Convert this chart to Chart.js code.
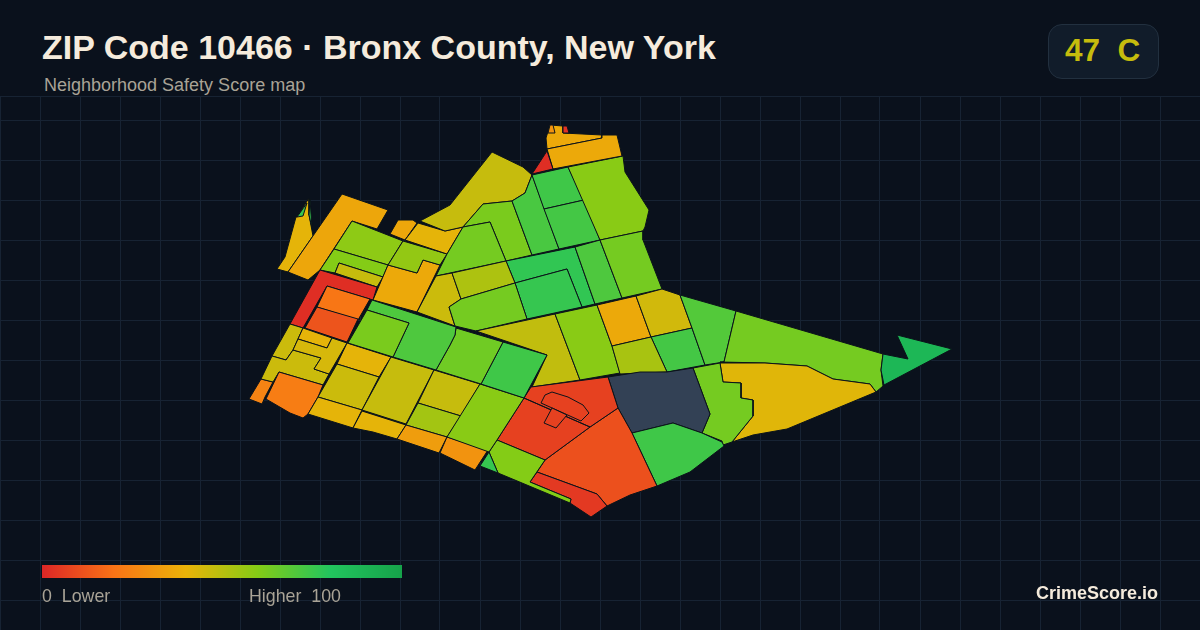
<!DOCTYPE html>
<html><head><meta charset="utf-8">
<script src="https://cdn.jsdelivr.net/npm/chart.js@4/dist/chart.umd.min.js"></script>
<style>
html,body{margin:0;padding:0;width:1200px;height:630px;overflow:hidden;background:#0a111c;font-family:"Liberation Sans",Arial,sans-serif}
#wrap{position:absolute;left:0;top:96px;width:1200px;height:540px}
.t{position:absolute;white-space:pre;line-height:1}
#title{left:42px;top:30px;font-size:34px;font-weight:700;color:#f5ebdc}
#sub{left:44px;top:76px;font-size:18px;color:#a9a396}
#badge{position:absolute;left:1048px;top:24px;width:109px;height:53px;border-radius:14px;background:#111c2a;border:1px solid #22303f}
#grade{left:1065px;top:35px;font-size:31.5px;font-weight:700;color:#c6bc0d}
#bar{position:absolute;left:42px;top:565px;width:360px;height:13px;background:linear-gradient(90deg,#dc2626 0%,#f97316 20%,#eab308 40%,#84cc16 60%,#22c55e 80%,#16a34a 100%)}
.lg{font-size:17.8px;color:#a9a396;top:588px}
#brand{right:42px;top:584px;font-size:18px;font-weight:700;color:#f5ebdc}
</style></head><body>
<div id="wrap"><canvas id="c"></canvas></div>
<div class="t" id="title">ZIP Code 10466 · Bronx County, New York</div>
<div class="t" id="sub">Neighborhood Safety Score map</div>
<div id="badge"></div><div class="t" id="grade">47  C</div>
<div id="bar"></div>
<div class="t lg" style="left:42px">0  Lower</div>
<div class="t lg" style="left:249px">Higher  100</div>
<div class="t" id="brand">CrimeScore.io</div>
<script>
const colorStops=[[0,[220,38,38]],[20,[249,115,22]],[40,[234,179,8]],[60,[132,204,22]],[80,[34,197,94]],[100,[22,163,74]]];
const noDataColor='#334155', edgeColor='#0b131a';
const gridStep=40;

const sliver=[277,269,285,257,296,217,297,217,309,198,309,215,313,236,288,272];
const sliverG1=[297,217,307,203,303,216];
const sliverG2=[310,199,312,228,309,215];
const orangeL=[288,272,342,194,388,210,377,229,352,221,320,270,308,280];
const orangeSmall=[390,234,398,220,413,220,417,223,405,240];
const limeD=[352,221,403,241,388,265,334,249];
const limeStrip=[334,249,388,265,383,277,339,263,335,273,320,270];
const oliveF=[339,263,383,277,377,287,335,273];
const redL=[320,270,377,287,373,300,327,286,303,328,290,324];
const orangeH=[327,286,370,299,358,320,317,307];
const darkI=[317,307,358,319,347,342,305,328];
const orangeJ=[388,265,417,273,423,260,440,265,417,312,373,300];
const limeK=[403,241,447,254,440,265,423,260,417,273,388,265];
const yellowL=[405,240,418,223,445,231,463,227,447,254];
const oliveM=[420,221,450,205,492,152,523,167,532,175,525,193,512,201,483,204,463,227,445,231];
const limeN=[483,204,512,201,532,255,506,261,490,222,463,227];
const limeO=[463,227,490,222,506,261,436,276,447,254];
const greenP=[512,201,525,193,532,175,559,249,532,255];
const greenQ=[532,175,568,167,584,200,544,209];
const greenR=[544,209,584,200,600,240,559,249];
const limeS=[568,167,623,156,625,172,649,210,645,227,643,231,600,240];
const topUpper=[547,149,546,138,550,125,563,126,563,133,602,135,602,138];
const topLower=[547,149,602,138,602,135,617,135,622,156,553,169];
const redTri=[547,151,553,169,532,174];
const topOrange=[548,133,550,125,553,125,555,133];
const topRed=[563,126,567,126,569,133,563,133];
const greenW=[506,261,575,247,595,304,582,307,567,269,515,283];
const greenX=[515,283,567,269,582,307,527,319];
const greenY=[575,247,600,240,622,298,595,304];
const limeZ=[600,240,643,231,643,240,662,289,622,298];
const oliveAA=[436,276,452,273,461,299,449,307,455,326,417,312];
const oliveAB=[452,273,506,261,515,283,461,299];
const limeAC=[449,307,461,299,515,283,527,319,476,331,455,326];
const oliveAD=[476,331,555,314,580,380,532,387,547,355];
const limeAE=[555,314,597,305,612,346,620,373,580,380];
const orangeAF=[597,305,636,296,651,337,612,346];
const oliveAG=[636,296,662,289,680,295,692,328,651,337];
const greenAH=[651,337,692,328,705,365,667,372];
const oliveAI=[612,346,651,337,667,372,620,374];
const greenAJ=[680,295,736,311,724,362,705,365,692,328];
const limeAK=[736,311,883,354,881,370,883,386,876,392,870,384,833,379,807,366,765,363,720,362,724,362];
const tipAL=[883,354,908,359,897,335,952,349,884,385,881,370];
const yellowAM=[720,363,765,363,807,366,833,379,870,384,876,392,787,429,753,435,732,442,753,416,753,400,741,398,741,383,723,382];
const limeAN=[693,368,720,363,723,382,741,383,741,398,753,400,753,416,732,442,723,445,722,441,702,433,710,414];
const slateAO=[608,377,640,372,667,372,693,368,710,414,702,433,673,423,632,433,618,408];
const greenAP=[632,433,673,423,702,433,722,442,724,446,690,472,657,486];
const orangeAQ=[618,408,632,433,657,486,630,495,607,506,597,494,537,472,545,460,590,427];
const redAR=[537,472,597,494,607,506,591,517,570,503,571,499,530,482];
const redAS=[531,387,608,377,618,408,590,427,545,460,497,440,524,398];
const arcShape=[541,403,545,395,552,392,568,397,583,405,589,413,581,421,541,403];
const rectShape=[552,408,544,423,556,428,567,415];
const cutLine=[524,398,590,427,524,398];
const limeAT=[497,440,545,460,530,482,571,499,570,503,498,473,489,452];
const greenAU=[489,452,498,473,480,466];
const tipAV=[261,379,273,382,265,397,262,404,249,399];
const oliveAW=[290,324,303,328,293,350,286,360,272,356];
const oliveAX=[272,356,286,360,293,350,321,358,314,369,329,374,323,385,279,372,273,382,261,379];
const yellowAY=[303,328,332,338,327,348,298,339];
const oliveAZ=[298,339,327,348,332,338,347,343,329,374,314,369,321,358,293,350];
const orangeBA=[279,372,323,385,318,397,308,414,303,418,290,413,266,399];
const yellowBB=[347,343,391,357,379,377,337,364];
const oliveBC=[337,364,379,377,362,410,318,397];
const yellowBD=[318,397,362,410,353,428,308,414];
const yellowBE=[362,411,406,425,397,439,373,432,353,428];
const oliveBF=[391,357,434,370,406,424,362,410];
const oliveBG=[434,370,480,384,461,416,418,403];
const limeBH=[418,403,461,416,447,437,406,425];
const orangeBI=[406,425,447,437,439,453,397,439];
const orangeBJ=[447,437,488,450,475,470,440,453];
const limeBK=[480,384,524,398,497,440,489,452,447,437];
const greenBL=[503,342,547,355,524,398,481,384];
const limeBM=[456,328,503,342,481,384,436,370,450,345,455,335];
const greenBN=[367,310,372,300,456,327,455,335,450,345,436,370,393,357,409,323];
const limeBO=[367,310,409,323,393,357,348,343];

const tractShapes=[sliver,sliverG1,sliverG2,orangeL,orangeSmall,limeD,limeStrip,oliveF,redL,orangeH,darkI,orangeJ,limeK,yellowL,oliveM,limeN,limeO,greenP,greenQ,greenR,limeS,topUpper,topLower,redTri,topOrange,topRed,greenW,greenX,greenY,limeZ,oliveAA,oliveAB,limeAC,oliveAD,limeAE,orangeAF,oliveAG,greenAH,oliveAI,greenAJ,limeAK,tipAL,yellowAM,limeAN,slateAO,greenAP,orangeAQ,redAR,redAS,cutLine,arcShape,rectShape,limeAT,greenAU,tipAV,oliveAW,oliveAX,yellowAY,oliveAZ,orangeBA,yellowBB,oliveBC,yellowBD,yellowBE,oliveBF,oliveBG,limeBH,orangeBI,orangeBJ,limeBK,greenBL,limeBM,greenBN,limeBO];
const tractScores=[41,76,76,36,36,58,60,47,2,21,12,37,57,41,47,62,63,72,74,73,59,37,37,2,30,3,77,76,71,63,46,52,63,48,59,37,45,73,53,70,63,88,42,63,null,74,11,5,7,7,7,7,60,76,25,46,46,41,44,23,41,46,41,41,47,47,54,33,30,59,74,64,71,62];

function scoreColor(s){
  if(s===null) return noDataColor;
  for(let i=1;i<colorStops.length;i++){
    const [a,ca]=colorStops[i-1],[b,cb]=colorStops[i];
    if(s<=b){const k=(s-a)/(b-a);return 'rgb('+ca.map((v,j)=>Math.round(v+(cb[j]-v)*k)).join(',')+')';}
  }
}
function toPoints(flat){
  const pts=[];
  for(let i=0;i<flat.length;i+=2) pts.push({x:flat[i],y:flat[i+1]});
  pts.push({x:flat[0],y:flat[1]});
  return pts;
}
const datasets=tractShapes.map((shape,i)=>({
  data:toPoints(shape),showLine:true,fill:'shape',tension:0,
  backgroundColor:scoreColor(tractScores[i]),borderColor:edgeColor,borderWidth:1,
  pointRadius:0,pointHoverRadius:0,borderJoinStyle:'round',spanGaps:false
})).reverse();
const gridOpts={color:'#172333',lineWidth:1,drawTicks:false};
new Chart(document.getElementById('c'),{
  type:'scatter',
  data:{datasets},
  options:{
    responsive:true,maintainAspectRatio:false,animation:false,events:[],
    layout:{padding:0},
    plugins:{legend:{display:false},tooltip:{enabled:false},title:{display:false}},
    scales:{
      x:{type:'linear',min:0,max:1200,ticks:{display:false,stepSize:gridStep},grid:gridOpts,border:{display:false}},
      y:{type:'linear',min:96,max:636,reverse:true,ticks:{display:false,stepSize:gridStep},grid:gridOpts,border:{display:false}}
    }
  }
});
</script>
</body></html>
